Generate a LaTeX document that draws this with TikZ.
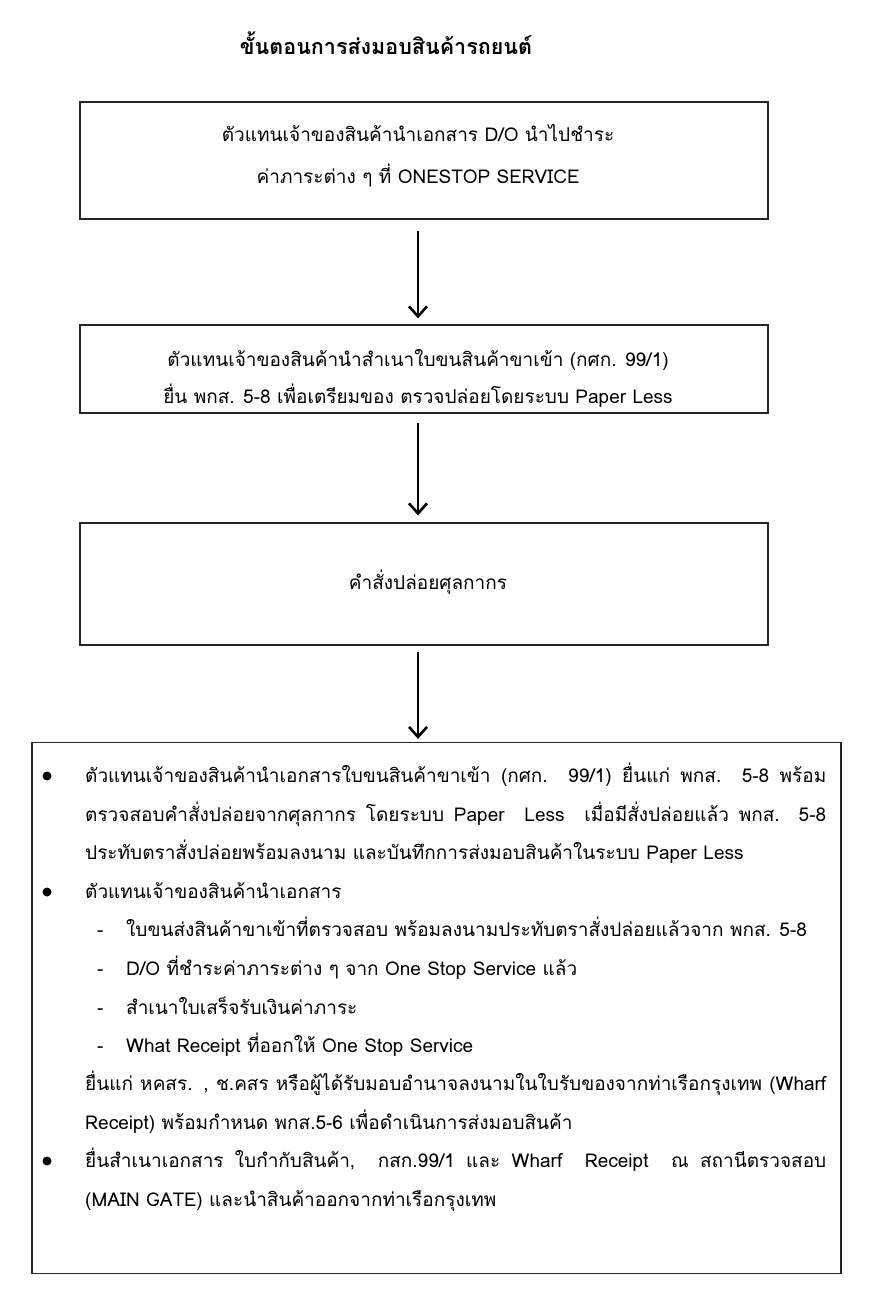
\documentclass[tikz,border=0pt]{standalone}
\usepackage{fontspec}
\setmainfont[Script=Thai]{Loma}
\usetikzlibrary{arrows.meta}
\tikzset{
 box/.style={draw=black!85, line width=1.3pt, inner sep=0pt},
 arr/.style={line width=2.6pt, -{Straight Barb[length=10pt,width=18pt,line width=2.6pt]}},
 txt/.style={font=\fontsize{19}{22}\selectfont, inner sep=0pt, anchor=base west},
 ctxt/.style={font=\fontsize{19}{22}\selectfont, inner sep=0pt, anchor=base},
 bul/.style={circle, fill=black, inner sep=0pt, minimum size=9pt},
}
\begin{document}
\begin{tikzpicture}[x=1pt,y=-1pt]
\useasboundingbox (0,0) rectangle (873,1315);
\node[font=\bfseries\fontsize{21.5}{24}\selectfont, inner sep=0pt, anchor=base] (title) at (386,54) {ขั้นตอนการส่งมอบสินค้ารถยนต์};
% boxes
\node[box, minimum width=688pt, minimum height=117pt] (b1) at (424,160.5) {};
\node[box, minimum width=688pt, minimum height=88pt] (b2) at (424,369) {};
\node[box, minimum width=688pt, minimum height=122pt] (b3) at (424,584) {};
\node[box, minimum width=809pt, minimum height=531pt] (b4) at (436.5,1008) {};
% box texts
\node[ctxt] (t1a) at (418,141) {ตัวแทนเจ้าของสินค้านำเอกสาร D/O นำไปชำระ};
\node[ctxt] (t1b) at (418,183) {ค่าภาระต่าง ๆ ที่ ONESTOP SERVICE};
\node[ctxt] (t2a) at (418,366) {ตัวแทนเจ้าของสินค้านำสำเนาใบขนสินค้าขาเข้า (กศก. 99/1)};
\node[ctxt] (t2b) at (418,403) {ยื่น พกส. 5-8 เพื่อเตรียมของ ตรวจปล่อยโดยระบบ Paper Less};
\node[ctxt] (t3) at (428,589) {คำสั่งปล่อยศุลกากร};
% arrows
\draw[arr] ([xshift=-6pt,yshift=-11pt]b1.south) -- ([xshift=-6pt,yshift=6pt]b2.north);
\draw[arr] ([xshift=-6pt,yshift=-9pt]b2.south) -- ([xshift=-6pt,yshift=7pt]b3.north);
\draw[arr] ([xshift=-6pt,yshift=-6pt]b3.south) -- ([xshift=-18.5pt,yshift=3pt]b4.north);
% box 4 content
\node[bul] (u1) at (47,776) {};
\node[bul] (u2) at (47,892) {};
\node[bul] (u3) at (47,1161) {};
\node[txt] (l1) at (85,782) {\makebox[741pt][s]{ตัวแทนเจ้าของสินค้านำเอกสารใบขนสินค้าขาเข้า (กศก. 99/1) ยื่นแก่ พกส. 5-8 พร้อม}};
\node[txt] (l2) at (85,821) {\makebox[741pt][s]{ตรวจสอบคำสั่งปล่อยจากศุลกากร โดยระบบ Paper\ \ Less\ \ เมื่อมีสั่งปล่อยแล้ว พกส. 5-8}};
\node[txt] (l3) at (85,859) {ประทับตราสั่งปล่อยพร้อมลงนาม และบันทึกการส่งมอบสินค้าในระบบ Paper Less};
\node[txt] (l4) at (85,898) {ตัวแทนเจ้าของสินค้านำเอกสาร};
\node[txt] (d1) at (97,936) {-};
\node[txt] (l5) at (126,936) {ใบขนส่งสินค้าขาเข้าที่ตรวจสอบ พร้อมลงนามประทับตราสั่งปล่อยแล้วจาก พกส. 5-8};
\node[txt] (d2) at (97,975) {-};
\node[txt] (l6) at (126,975) {D/O ที่ชำระค่าภาระต่าง ๆ จาก One Stop Service แล้ว};
\node[txt] (d3) at (97,1014) {-};
\node[txt] (l7) at (126,1014) {สำเนาใบเสร็จรับเงินค่าภาระ};
\node[txt] (d4) at (97,1052) {-};
\node[txt] (l8) at (126,1052) {What Receipt ที่ออกให้ One Stop Service};
\node[txt] (l9) at (85,1090) {\makebox[741pt][s]{ยื่นแก่ หคสร. , ช.คสร หรือผู้ได้รับมอบอำนาจลงนามในใบรับของจากท่าเรือกรุงเทพ (Wharf}};
\node[txt] (l10) at (85,1129) {Receipt) พร้อมกำหนด พกส.5-6 เพื่อดำเนินการส่งมอบสินค้า};
\node[txt] (l11) at (85,1167) {\makebox[741pt][s]{ยื่นสำเนาเอกสาร ใบกำกับสินค้า,\ \ กสก.99/1 และ Wharf\ \ Receipt\ \ ณ สถานีตรวจสอบ}};
\node[txt] (l12) at (85,1206) {(MAIN GATE) และนำสินค้าออกจากท่าเรือกรุงเทพ};
\end{tikzpicture}
\end{document}
